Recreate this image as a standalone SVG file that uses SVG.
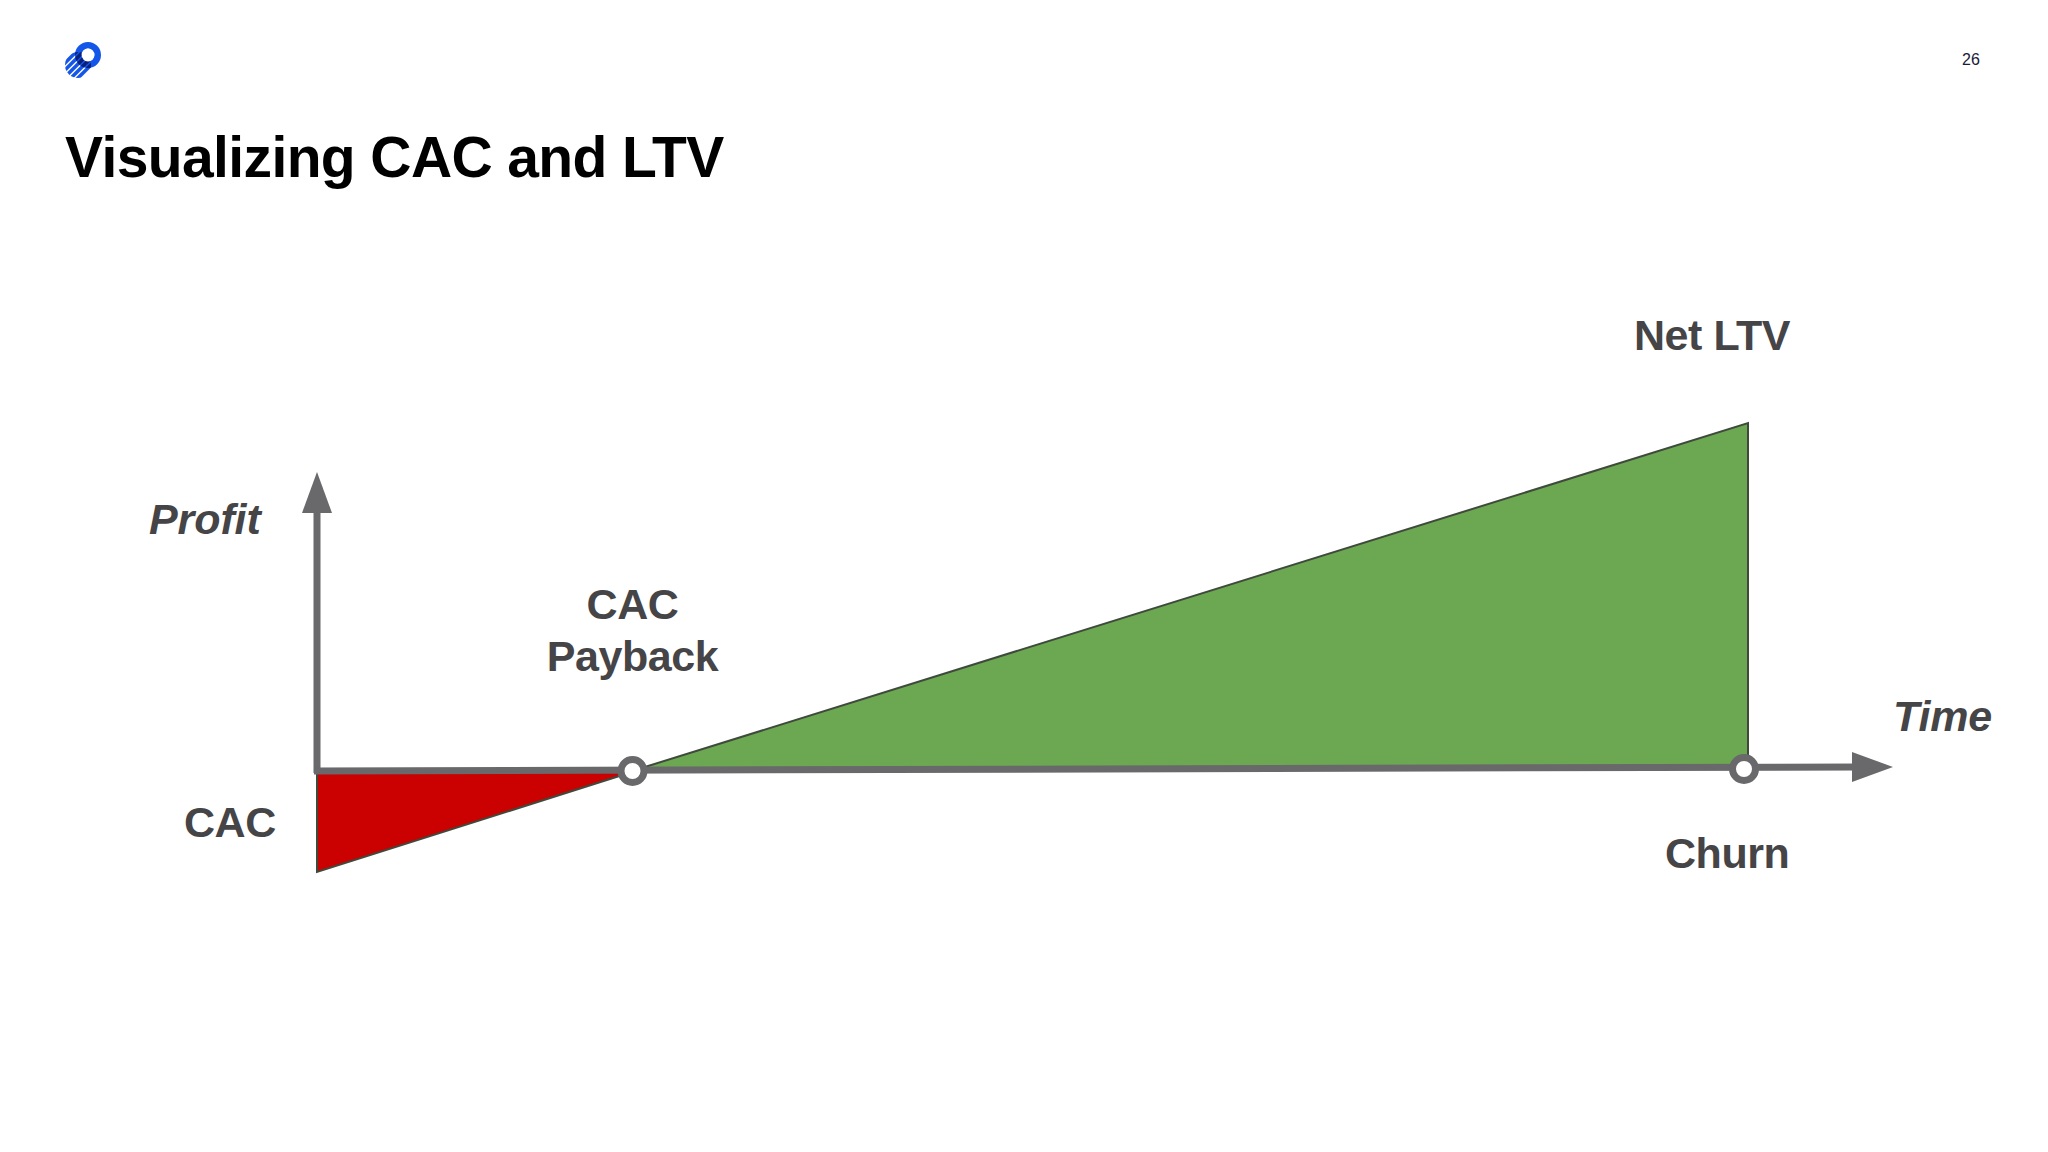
<svg xmlns="http://www.w3.org/2000/svg" width="2048" height="1152" viewBox="0 0 2048 1152">
<style>
.t{font-family:"Liberation Sans",Arial,sans-serif;font-weight:700;fill:#454447;font-size:43px;letter-spacing:-.45px}
.i{font-style:italic;letter-spacing:-.1px}
.m{text-anchor:middle}
.ax{stroke:#69686b;stroke-width:7;fill:none}
.ah{fill:#69686b}
.dot{fill:#fff;stroke:#69686b;stroke-width:7}
.tri{stroke:#3f4a3c;stroke-width:2;stroke-linejoin:miter}
.st{fill:none;stroke-width:3.6}
</style>
<defs>
<clipPath id="disc"><circle cx="78" cy="65" r="13"/></clipPath>
<clipPath id="ringc"><circle cx="88" cy="55" r="13"/></clipPath>
<g id="stripes"><path d="M60 68 L84 44"/><path d="M62 73 L90 45"/><path d="M66 76 L94 48"/><path d="M71 78 L97 52"/><path d="M76 80 L100 56"/></g>
</defs>
<rect width="2048" height="1152" fill="#fff"/>
<g id="logo">
<g clip-path="url(#disc)"><use href="#stripes" class="st" stroke="#1456e8"/></g>
<circle cx="88" cy="55" r="9.7" fill="none" stroke="#1456e8" stroke-width="6.6"/>
<g clip-path="url(#disc)"><g clip-path="url(#ringc)"><use href="#stripes" class="st" stroke="#0a1f7a"/></g></g>
<circle cx="88" cy="55" r="6.4" fill="#fff"/>
</g>
<text id="page" x="1971" y="65" font-family="'Liberation Sans',Arial,sans-serif" font-size="16" text-anchor="middle" fill="#1a1a3a">26</text>
<text id="title" x="65" y="177" font-family="'Liberation Sans',Arial,sans-serif" font-weight="700" font-size="57" letter-spacing="-.6" fill="#000">Visualizing CAC and LTV</text>
<g id="green-area"><path class="tri" d="M632 771 L1748 423 L1748 768 Z" fill="#6ca752"/></g>
<g id="red-area"><path class="tri" d="M317 772 L632 772 L317 872 Z" fill="#cb0000"/></g>
<g id="connectors">
<path class="ax" d="M317 773 V510"/>
<path class="ah" d="M317 472 L332 513 L302 513 Z"/>
<path class="ax" d="M314 771 L1860 767"/>
<path class="ah" d="M1852 752 L1893 767 L1852 782 Z"/>
</g>
<g id="payback-dot"><circle class="dot" cx="632.5" cy="771" r="11.5"/></g>
<g id="churn-dot"><circle class="dot" cx="1744" cy="769" r="11.5"/></g>
<g id="label-profit"><text class="t i" x="149" y="534">Profit</text></g>
<g id="label-payback"><text class="t m" x="632.5" y="619">CAC</text><text class="t m" x="632.5" y="671">Payback</text></g>
<g id="label-cac"><text class="t" x="184" y="837">CAC</text></g>
<g id="label-ltv"><text class="t" x="1634" y="350">Net LTV</text></g>
<g id="label-time"><text class="t i" x="1893" y="731">Time</text></g>
<g id="label-churn"><text class="t" x="1665" y="868">Churn</text></g>
</svg>
